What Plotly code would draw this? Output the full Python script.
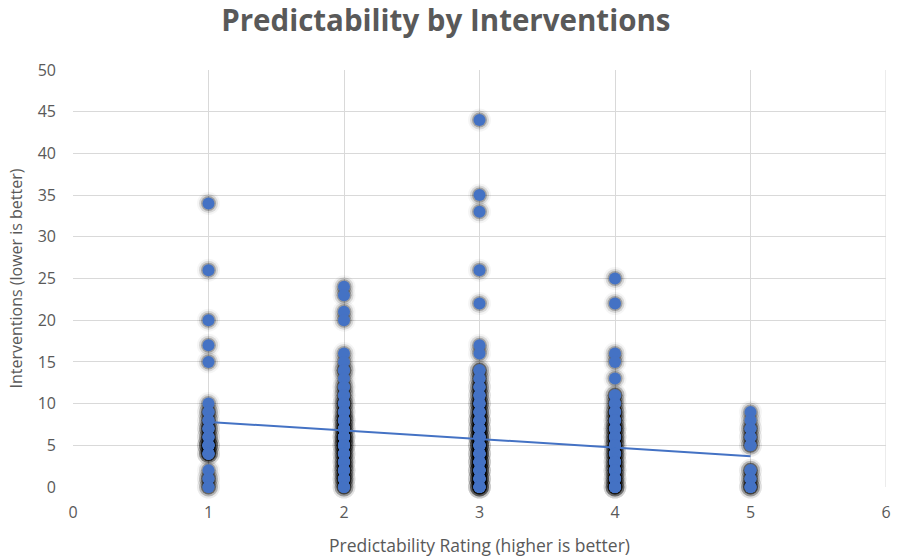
import plotly.graph_objects as go

# Interventions observed for each predictability rating (repeats = multiple observations)
rating_1 = [34, 26, 20, 17, 15, 10, 9, 9, 8, 8, 7, 7, 7, 6, 6, 6, 5, 5, 5, 5, 5, 4, 4, 4, 4, 2, 1, 1, 0, 0]
rating_2 = [24, 23, 21, 20, 16, 15, 14, 14, 13, 12, 12, 11, 11, 10, 10, 10, 9, 9, 9, 8, 8, 8, 8,
            7, 7, 7, 7, 6, 6, 6, 6, 6, 5, 5, 5, 5, 5, 4, 4, 4, 4, 3, 3, 3, 3, 2, 2, 2, 2, 1, 1, 1, 1, 0, 0, 0]
rating_3 = [44, 35, 33, 26, 22, 17, 16, 14, 14, 13, 13, 12, 12, 12, 11, 11, 11, 10, 10, 10, 10,
            9, 9, 9, 9, 8, 8, 8, 8, 8, 7, 7, 7, 7, 7, 6, 6, 6, 6, 6, 6, 5, 5, 5, 5, 5, 5,
            4, 4, 4, 4, 4, 4, 3, 3, 3, 3, 3, 3, 2, 2, 2, 2, 2, 2, 1, 1, 1, 1, 1, 1, 0, 0, 0, 0, 0, 0]
rating_4 = [25, 22, 16, 15, 13, 11, 11, 10, 10, 9, 9, 9, 8, 8, 8, 7, 7, 7, 7, 6, 6, 6, 6, 5, 5, 5, 5,
            4, 4, 4, 4, 3, 3, 3, 3, 2, 2, 2, 2, 1, 1, 1, 1, 0, 0, 0, 0, 0]
rating_5 = [9, 8, 7, 7, 6, 6, 5, 5, 2, 2, 1, 1, 0, 0, 0]

ratings = [1, 2, 3, 4, 5]
interventions = [rating_1, rating_2, rating_3, rating_4, rating_5]

# Linear trendline endpoints
trend_x = [1, 5]
trend_y = [7.8, 3.7]

xs, ys = [], []
for r, vals in zip(ratings, interventions):
    xs += [r] * len(vals)
    ys += vals

title_text = "Predictability by Interventions"
x_title = "Predictability Rating (higher is better)"
y_title = "Interventions (lower is better)"

blue = "#4472C4"
grey_text = "#595959"
grid = "#d9d9d9"

fig = go.Figure()
# soft glow / shadow layers
fig.add_trace(go.Scatter(x=xs, y=ys, mode="markers", cliponaxis=False, hoverinfo="skip",
                         marker=dict(size=23, color="rgba(0,0,0,0.04)", line=dict(width=0))))
fig.add_trace(go.Scatter(x=xs, y=ys, mode="markers", cliponaxis=False, hoverinfo="skip",
                         marker=dict(size=19, color="rgba(0,0,0,0.12)", line=dict(width=0))))
fig.add_trace(go.Scatter(x=xs, y=ys, mode="markers", cliponaxis=False, hoverinfo="skip",
                         marker=dict(size=15, color="rgba(0,0,0,0.25)", line=dict(width=0))))
# trendline
fig.add_trace(go.Scatter(x=trend_x, y=trend_y, mode="lines", line=dict(color=blue, width=2)))
# points
fig.add_trace(go.Scatter(x=xs, y=ys, mode="markers", cliponaxis=False,
                         marker=dict(size=12, color=blue, line=dict(width=0))))

fig.update_layout(
    width=897, height=556,
    margin=dict(l=73, r=11, t=70, b=69),
    paper_bgcolor="white", plot_bgcolor="white",
    showlegend=False,
    font=dict(family="Open Sans", color=grey_text, size=16),
    title=dict(text="<b>" + title_text + "</b>", x=0.497, xanchor="center", y=0.963, yanchor="middle",
               font=dict(size=29.5, color=grey_text, family="Open Sans")),
    xaxis=dict(range=[0, 6], dtick=1, showgrid=True, gridcolor=grid, gridwidth=1,
               zeroline=False, showline=False, ticks="", automargin=False,
               ticklabelstandoff=14, tickfont=dict(size=16, color=grey_text)),
    yaxis=dict(range=[0, 50], dtick=5, showgrid=True, gridcolor=grid, gridwidth=1,
               zeroline=False, showline=False, ticks="", automargin=False,
               ticklabelstandoff=16, tickfont=dict(size=16, color=grey_text)),
    annotations=[
        dict(text=x_title, xref="paper", yref="paper", x=0.5, y=0, yshift=-58,
             xanchor="center", yanchor="middle", showarrow=False,
             font=dict(size=17.5, color=grey_text)),
        dict(text=y_title, xref="paper", yref="paper", x=0, xshift=-58, y=0.5,
             xanchor="center", yanchor="middle", showarrow=False, textangle=-90,
             font=dict(size=16, color=grey_text)),
    ],
)
fig.add_shape(type="line", xref="x", yref="paper", x0=6, x1=6, y0=0, y1=1,
              line=dict(color=grid, width=1), layer="below")

fig.write_html("out.html", config={"displayModeBar": False},
               post_script="document.body.style.margin='0';document.body.style.overflow='hidden';")
